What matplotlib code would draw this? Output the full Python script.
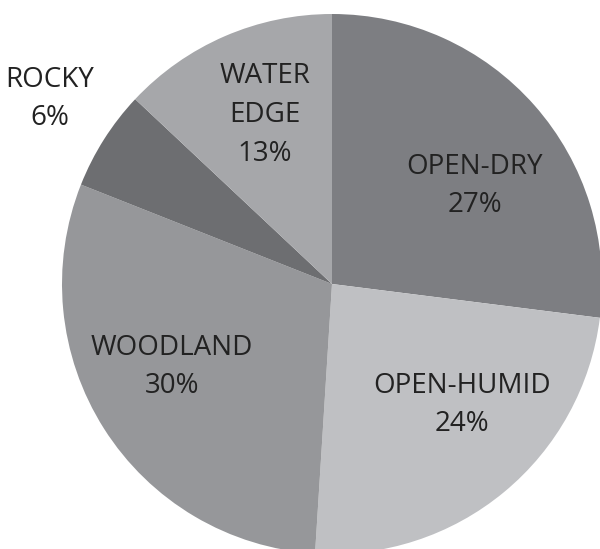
import matplotlib
matplotlib.use("Agg")
import matplotlib.pyplot as plt

categories = ["OPEN-DRY", "OPEN-HUMID", "WOODLAND", "ROCKY", "WATER\nEDGE"]
values = [27, 24, 30, 6, 13]
colors = ["#7d7e82", "#bfc0c3", "#96979a", "#6d6e71", "#a6a7aa"]
# label anchor positions in pixel coords (x, y from top)
label_pos = [(475, 186), (462, 405), (172, 367), (50, 99), (265, 115)]

W, H = 600, 549
fig = plt.figure(figsize=(W / 100, H / 100), dpi=100)
ax = fig.add_axes([0, 0, 1, 1])

cx, cy, r = 332, H - 284, 270
ax.pie(values, colors=colors, startangle=90, counterclock=False,
       center=(cx, cy), radius=r, frame=True,
       wedgeprops=dict(linewidth=0))
ax.set_xlim(0, W)
ax.set_ylim(0, H)
ax.set_aspect("equal")
ax.axis("off")

for cat, v, (x, y) in zip(categories, values, label_pos):
    ax.text(x, H - y, f"{cat}\n{v}%", ha="center", va="center",
            fontsize=20, color="#222222", family=["Open Sans", "DejaVu Sans"],
            linespacing=1.52)

fig.savefig("out.png", dpi=100)
